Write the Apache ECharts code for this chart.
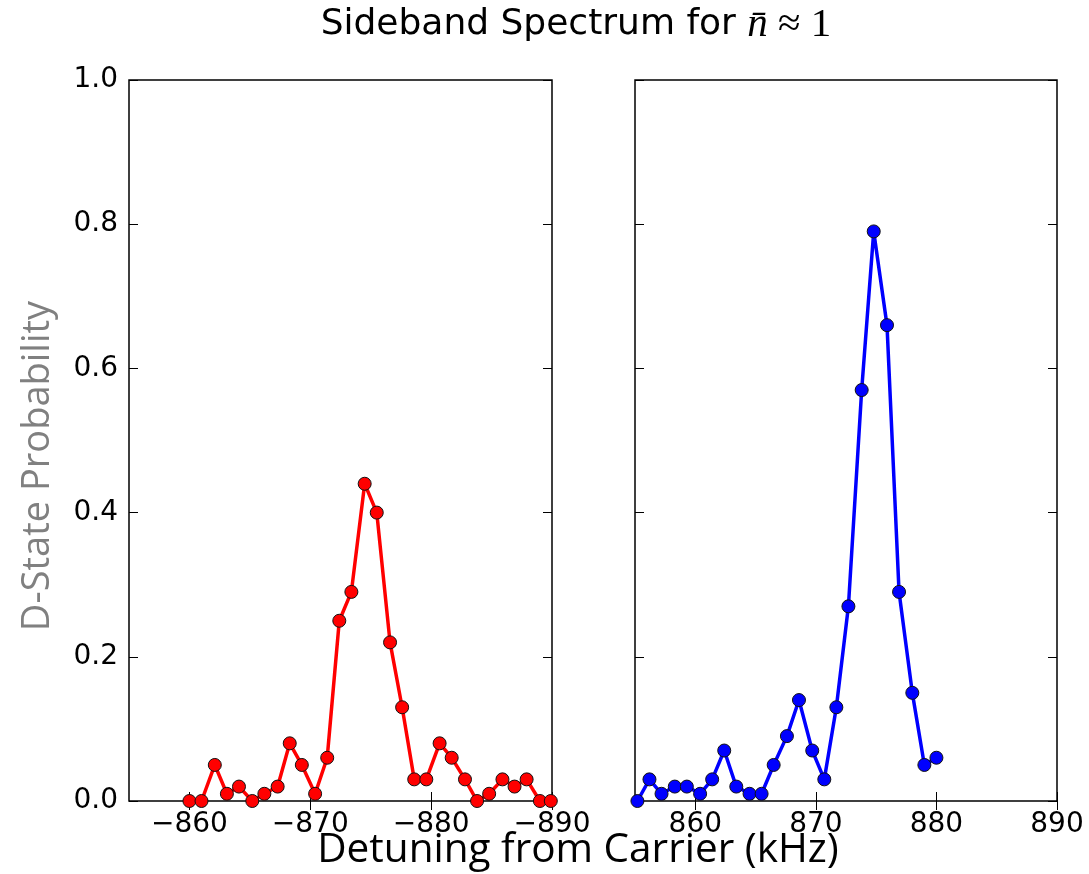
<!DOCTYPE html>
<html>
<head>
<meta charset="utf-8">
<title>Sideband Spectrum</title>
<script src="https://cdn.jsdelivr.net/npm/echarts@6/dist/echarts.min.js"></script>
<style>
  html, body { margin: 0; padding: 0; background: #ffffff; }
  #chart { width: 1089px; height: 874px; }
</style>
</head>
<body>
<div id="chart"></div>
<script>
// Red sideband (negative detuning, kHz) and D-state probability
const redDetuning = [-860.0, -861.0, -862.1, -863.1, -864.1, -865.2, -866.2, -867.3, -868.3, -869.3,
                     -870.4, -871.4, -872.4, -873.4, -874.5, -875.5, -876.6, -877.6, -878.6, -879.6,
                     -880.7, -881.7, -882.8, -883.8, -884.8, -885.9, -886.9, -887.9, -889.0, -889.9];
const redProb = [0.00, 0.00, 0.05, 0.01, 0.02, 0.00, 0.01, 0.02, 0.08, 0.05,
                 0.01, 0.06, 0.25, 0.29, 0.44, 0.40, 0.22, 0.13, 0.03, 0.03,
                 0.08, 0.06, 0.03, 0.00, 0.01, 0.03, 0.02, 0.03, 0.00, 0.00];

// Blue sideband (positive detuning, kHz)
const blueDetuning = [855.2, 856.2, 857.2, 858.3, 859.3, 860.4, 861.4, 862.4, 863.4, 864.5,
                      865.5, 866.5, 867.6, 868.6, 869.7, 870.7, 871.7, 872.7, 873.8, 874.8,
                      875.9, 876.9, 878.0, 879.0, 880.0];
const blueProb = [0.00, 0.03, 0.01, 0.02, 0.02, 0.01, 0.03, 0.07, 0.02, 0.01,
                  0.01, 0.05, 0.09, 0.14, 0.07, 0.03, 0.13, 0.27, 0.57, 0.79,
                  0.66, 0.29, 0.15, 0.05, 0.06];

const redTicks = [-860, -870, -880, -890];
const blueTicks = [860, 870, 880, 890];
const probTicks = [0, 0.2, 0.4, 0.6, 0.8, 1.0];

const FONT = 'DejaVu Sans';
const tickFont = { fontFamily: FONT, fontSize: 28, color: '#000' };

function pairs(xs, ys) { return xs.map((x, i) => [x, ys[i]]); }

const grids = [
  { left: 129, width: 423, top: 80, height: 721 },
  { left: 635, width: 422, top: 80, height: 721 }
];

function xAxisPair(gridIndex, min, max, inverse, ticks) {
  const base = {
    type: 'value', gridIndex, min, max, inverse,
    splitLine: { show: false },
    axisLine: { show: false },
    axisTick: { show: true, inside: true, length: 9, customValues: ticks,
                lineStyle: { color: '#000', width: 1 } }
  };
  return [
    Object.assign({}, base, {
      position: 'bottom',
      axisLabel: Object.assign({ show: true, margin: 10, customValues: ticks,
        formatter: v => (v < 0 ? '\u2212' + Math.abs(v) : String(v)) }, tickFont)
    }),
    Object.assign({}, base, { position: 'top', axisLabel: { show: false } })
  ];
}

function yAxisPair(gridIndex, showLabels) {
  const base = {
    type: 'value', gridIndex, min: 0, max: 1,
    splitLine: { show: false },
    axisLine: { show: false },
    axisTick: { show: true, inside: true, length: 9, customValues: probTicks,
                lineStyle: { color: '#000', width: 1 } }
  };
  return [
    Object.assign({}, base, {
      position: 'left',
      axisLabel: Object.assign({ show: showLabels, margin: 11, customValues: probTicks,
        formatter: v => v.toFixed(1) }, tickFont)
    }),
    Object.assign({}, base, { position: 'right', axisLabel: { show: false } })
  ];
}

const lineSeries = (name, xi, yi, data, color) => ({
  name, type: 'line', xAxisIndex: xi, yAxisIndex: yi, data,
  symbol: 'circle', symbolSize: 13, showAllSymbol: true,
  lineStyle: { color, width: 3.5 },
  itemStyle: { color, borderColor: '#111', borderWidth: 1 },
  clip: true, animation: false, z: 3
});

const chart = echarts.init(document.getElementById('chart'), null, { renderer: 'canvas' });
chart.setOption({
  backgroundColor: '#ffffff',
  animation: false,
  grid: grids.map(g => Object.assign({ show: true, borderColor: '#000', borderWidth: 1.5,
                                       backgroundColor: 'transparent' }, g)),
  xAxis: [...xAxisPair(0, -890, -855, true, redTicks), ...xAxisPair(1, 855, 890, false, blueTicks)],
  yAxis: [...yAxisPair(0, true), ...yAxisPair(1, false)],
  series: [
    lineSeries('Red sideband', 0, 0, pairs(redDetuning, redProb), '#ff0000'),
    lineSeries('Blue sideband', 2, 2, pairs(blueDetuning, blueProb), '#0000ff')
  ],
  graphic: [
    {
      type: 'text', x: 576, y: 25,
      style: {
        text: 'Sideband Spectrum for {m|n\u0304}{r| \u2248 1}',
        align: 'center', verticalAlign: 'middle',
        fontFamily: FONT, fontSize: 36, fill: '#000',
        rich: {
          m: { fontFamily: 'Liberation Serif', fontStyle: 'italic', fontSize: 41, fill: '#000' },
          r: { fontFamily: 'Liberation Serif', fontSize: 41, fill: '#000' }
        }
      }
    },
    {
      type: 'text', x: 578, y: 850,
      style: {
        text: 'Detuning from Carrier (kHz)',
        align: 'center', verticalAlign: 'middle',
        fontFamily: 'Open Sans', fontSize: 40.5, fill: '#000'
      }
    },
    {
      type: 'text', x: 38, y: 466, rotation: Math.PI / 2,
      style: {
        text: 'D-State Probability',
        align: 'center', verticalAlign: 'middle',
        fontFamily: 'Open Sans', fontSize: 38, fill: '#808080'
      }
    }
  ]
});
</script>
</body>
</html>
